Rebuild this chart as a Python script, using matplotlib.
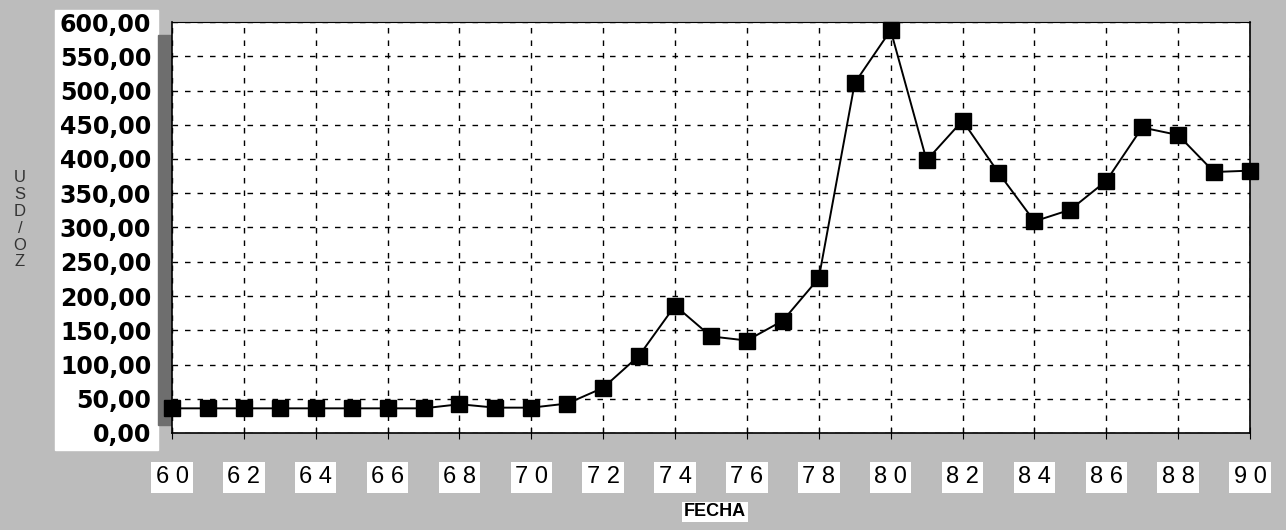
import numpy as np
import matplotlib.pyplot as plt
from matplotlib.patches import Rectangle

# Gold price, USD per ounce, 1960-1990
years = list(range(60, 91))
price = [36, 36, 36, 36, 36, 36, 36, 36, 42, 37, 37,
         43, 66, 113, 186, 141, 135, 164, 226, 511, 588,
         398, 456, 380, 309, 326, 368, 446, 435, 381, 383]

x_ticks = list(range(60, 91, 2))
x_tick_labels = [" ".join(str(y)) for y in x_ticks]
y_ticks = list(range(0, 601, 50))
y_tick_labels = [f"{v},00" for v in y_ticks]

plt.rcParams['font.family'] = ['Liberation Sans', 'DejaVu Sans']

fig = plt.figure(figsize=(12.86, 5.30), dpi=100, facecolor="#bcbcbc")

# white column behind the y labels and dark shadow strip
fig.patches.append(Rectangle((55 / 1286, 1 - 450 / 530), 103 / 1286, 440 / 530,
                             transform=fig.transFigure, color="white", zorder=-1))
fig.patches.append(Rectangle((158 / 1286, 1 - 425 / 530), 14 / 1286, 390 / 530,
                             transform=fig.transFigure, color="#6e6e6e", zorder=-1))

ax = fig.add_axes([172 / 1286, 1 - 433 / 530, 1078 / 1286, 411 / 530])
ax.set_facecolor("white")

ax.plot(years, price, color="black", lw=1.4, marker="s", markersize=11,
        markerfacecolor="black", markeredgecolor="black", clip_on=False, zorder=3)

ax.set_xlim(60, 90)
ax.set_ylim(0, 600)
ax.set_xticks(x_ticks)
ax.set_xticklabels(x_tick_labels, fontsize=17)
ax.set_yticks(y_ticks)
ax.set_yticklabels(y_tick_labels, fontsize=17, fontweight="bold", family="DejaVu Sans")

ax.grid(True, color="black", linestyle=(0, (4, 5)), lw=1.0)
ax.tick_params(axis="x", direction="inout", length=8, pad=20)
ax.tick_params(axis="y", length=0, pad=15)
for lbl in ax.get_xticklabels():
    lbl.set_bbox(dict(facecolor="white", edgecolor="none", pad=3))

for s in ax.spines.values():
    s.set_color("black")
    s.set_linewidth(1.2)
ax.spines["top"].set_linewidth(0.8)

# stacked axis label
fig.text(20 / 1286, 1 - 220 / 530, "U\nS\nD\n/\nO\nZ", ha="center", va="center",
         fontsize=12, linespacing=1.15, color="#333333")
fig.text(715 / 1286, 1 - 512 / 530, "FECHA", ha="center", va="center",
         fontsize=13, fontweight="bold",
         bbox=dict(facecolor="white", edgecolor="none", pad=1))

fig.savefig("out.png", dpi=100, facecolor=fig.get_facecolor())
